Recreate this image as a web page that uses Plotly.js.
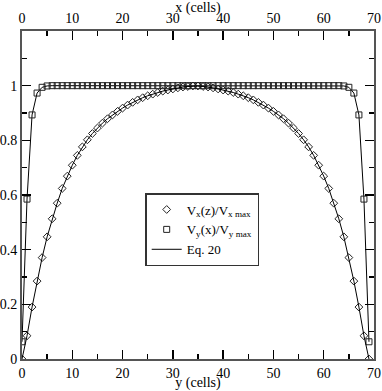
<!DOCTYPE html>
<html>
<head>
<meta charset="utf-8">
<script src="https://cdn.plot.ly/plotly-3.0.1.min.js"></script>
<style>
    html, body { margin: 0; padding: 0; background: #fff; }
    #chart { width: 382px; height: 391px; }
</style>
</head>
<body>
<div id="chart"></div>
<script>
// Cell positions across the channel
const cells = [0, 1, 2, 3, 4, 5, 6, 7, 8, 9, 10, 11, 12, 13, 14, 15, 16, 17, 18, 19,
    20, 21, 22, 23, 24, 25, 26, 27, 28, 29, 30, 31, 32, 33, 34, 35, 36, 37, 38, 39,
    40, 41, 42, 43, 44, 45, 46, 47, 48, 49, 50, 51, 52, 53, 54, 55, 56, 57, 58, 59,
    60, 61, 62, 63, 64, 65, 66, 67, 68, 69];

// Vx(z)/Vx max (diamonds)
const vxProfile = [0, 0.085, 0.19, 0.285, 0.371, 0.447, 0.513, 0.570, 0.624, 0.669,
    0.709, 0.745, 0.776, 0.802, 0.825, 0.845, 0.863, 0.879, 0.893, 0.906,
    0.918, 0.929, 0.939, 0.948, 0.956, 0.963, 0.969, 0.975, 0.980, 0.984,
    0.988, 0.992, 0.995, 0.997, 0.999, 0.999, 0.997, 0.995, 0.992, 0.988,
    0.984, 0.980, 0.975, 0.969, 0.963, 0.956, 0.948, 0.939, 0.929, 0.918,
    0.906, 0.893, 0.879, 0.863, 0.845, 0.825, 0.802, 0.776, 0.745, 0.709,
    0.669, 0.624, 0.570, 0.513, 0.447, 0.371, 0.285, 0.19, 0.085, 0];

// Vy(x)/Vy max (squares)
const vyProfile = [0.063, 0.585, 0.893, 0.973, 0.994, 0.999, 1, 1, 1, 1,
    1, 1, 1, 1, 1, 1, 1, 1, 1, 1,
    1, 1, 1, 1, 1, 1, 1, 1, 1, 1,
    1, 1, 1, 1, 1, 1, 1, 1, 1, 1,
    1, 1, 1, 1, 1, 1, 1, 1, 1, 1,
    1, 1, 1, 1, 1, 1, 1, 1, 1, 1,
    1, 1, 1, 1, 0.999, 0.994, 0.973, 0.893, 0.585, 0.063];

// Axis labels
const xTicks = [0, 10, 20, 30, 40, 50, 60, 70];
const yTicks = [0, 0.2, 0.4, 0.6, 0.8, 1];
const yTickText = ['0', '0.2', '0.4', '0.6', '0.8', '1'];

const serif = 'Liberation Serif';
const font = { family: serif, size: 14, color: '#000' };
const frameColor = '#555';

const traces = [
    {
        x: cells, y: vyProfile, mode: 'lines', name: 'Eq. 20',
        line: { color: '#000', width: 1 }, legendgroup: 'eq', showlegend: false
    },
    {
        x: cells, y: vxProfile, mode: 'markers', name: 'V<sub>x</sub>(z)/V<sub>x max</sub>',
        marker: { symbol: 'diamond-open', size: 6, color: '#222', line: { width: 1 } }
    },
    {
        x: cells, y: vyProfile, mode: 'markers', name: 'V<sub>y</sub>(x)/V<sub>y max</sub>',
        marker: { symbol: 'square-open', size: 6, color: '#222', line: { width: 1 } }
    },
    {
        x: cells, y: vxProfile, mode: 'lines', name: 'Eq. 20',
        line: { color: '#000', width: 1 }, legendgroup: 'eq', showlegend: true
    },
    // invisible trace so the top axis is drawn
    { x: [0, 70], y: [0, 0], xaxis: 'x2', mode: 'none', showlegend: false, hoverinfo: 'skip' }
];

const minorTicks = (step) => ({ dtick: step, ticks: 'inside', ticklen: 5, tickcolor: '#000', tickwidth: 1.5 });

const axisBase = {
    showline: true, linecolor: frameColor, linewidth: 2,
    showgrid: false, zeroline: false,
    ticks: 'inside', ticklen: 9, tickwidth: 1.5, tickcolor: '#000',
    tickfont: font
};

const layout = {
    width: 382, height: 391,
    margin: { l: 22, r: 8, t: 31, b: 32 },
    paper_bgcolor: '#fff', plot_bgcolor: '#fff',
    font: font,
    showlegend: true,
    legend: {
        x: 0.35, y: 0.506, xanchor: 'left', yanchor: 'top',
        bgcolor: '#fff', bordercolor: '#333', borderwidth: 1.5,
        font: { family: serif, size: 13, color: '#000' },
        tracegroupgap: 0, itemwidth: 30
    },
    xaxis: Object.assign({}, axisBase, {
        range: [0, 70], tickvals: xTicks, minor: minorTicks(5),
        title: { text: 'y (cells)', font: font, standoff: 0 }
    }),
    xaxis2: Object.assign({}, axisBase, {
        range: [0, 70], tickvals: xTicks, overlaying: 'x', side: 'top', anchor: 'y',
        minor: minorTicks(5),
        title: { text: 'x (cells)', font: font, standoff: 0 }
    }),
    yaxis: Object.assign({}, axisBase, {
        range: [0, 1.2], tickvals: yTicks, ticktext: yTickText, mirror: 'ticks',
        minor: minorTicks(0.1), ticklabelstandoff: 0
    })
};

Plotly.newPlot('chart', traces, layout, { displayModeBar: false, staticPlot: true });
</script>
</body>
</html>
